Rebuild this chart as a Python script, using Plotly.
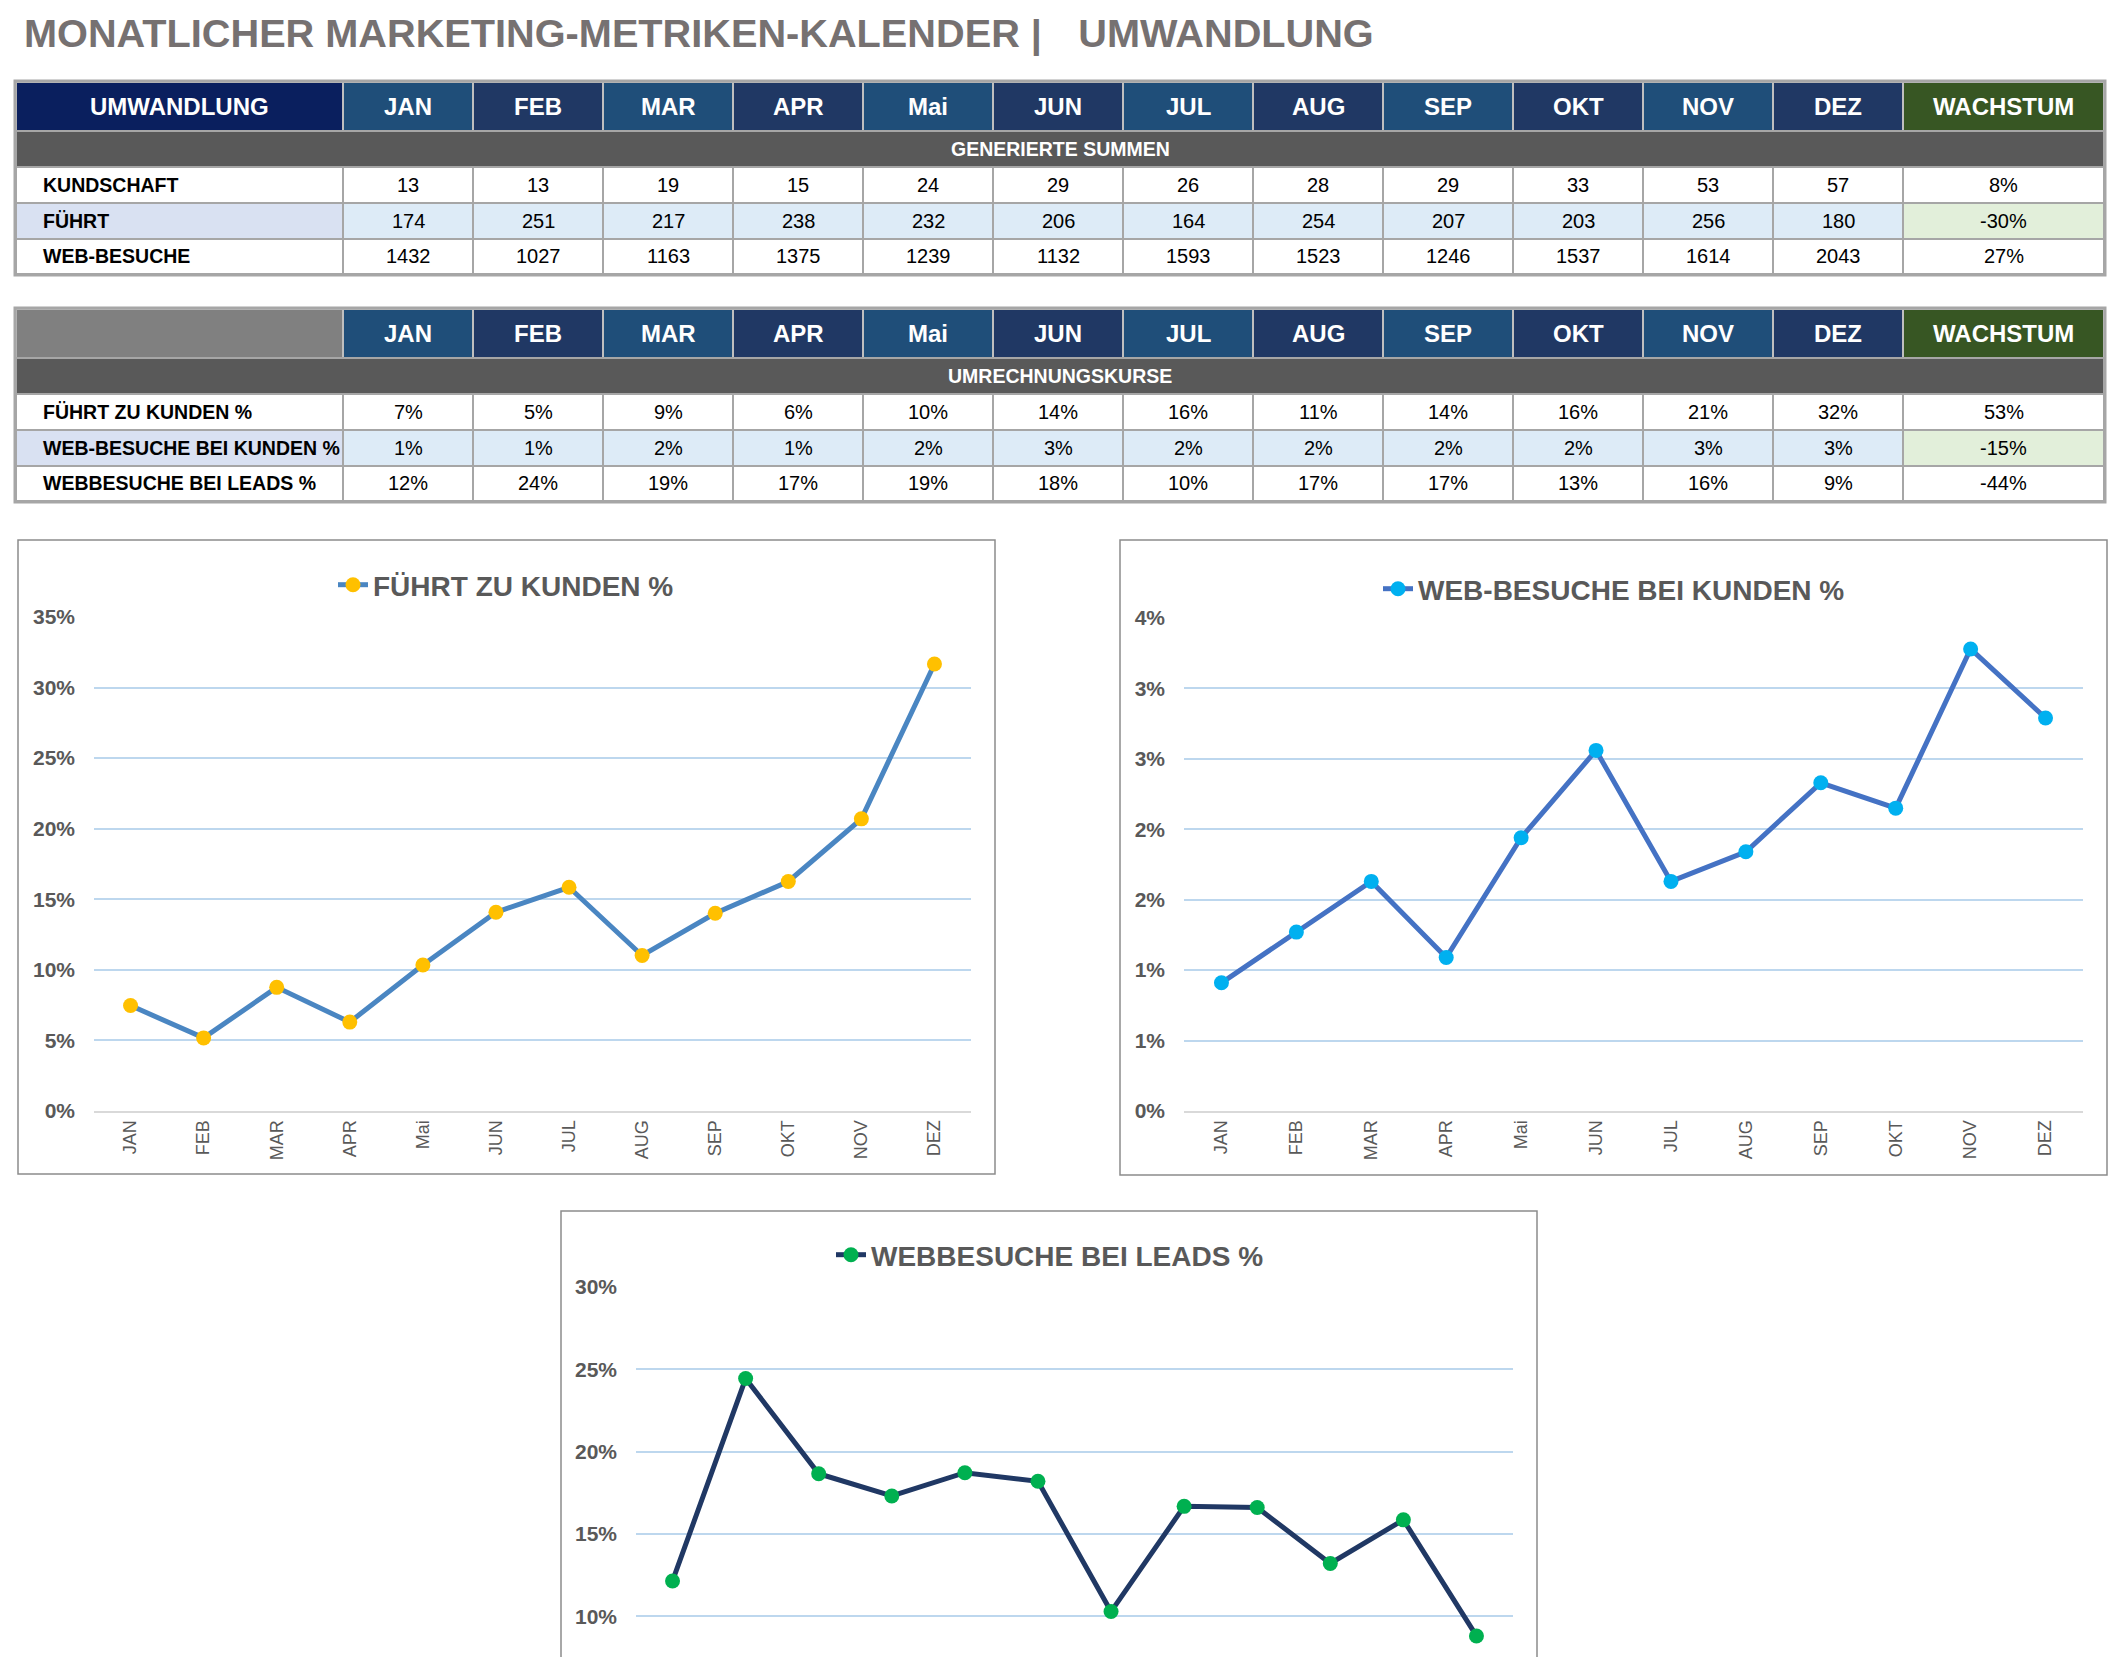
import plotly.graph_objects as go

W, H = 2122, 1657
FONT = "Liberation Sans, Arial, Helvetica, sans-serif"

# ---------------- data ----------------
months = ["JAN", "FEB", "MAR", "APR", "Mai", "JUN", "JUL", "AUG", "SEP", "OKT", "NOV", "DEZ"]

sum_labels = ["KUNDSCHAFT", "FÜHRT", "WEB-BESUCHE"]
kundschaft = [13, 13, 19, 15, 24, 29, 26, 28, 29, 33, 53, 57]
fuehrt = [174, 251, 217, 238, 232, 206, 164, 254, 207, 203, 256, 180]
web_besuche = [1432, 1027, 1163, 1375, 1239, 1132, 1593, 1523, 1246, 1537, 1614, 2043]
sum_growth = ["8%", "-30%", "27%"]

rate_labels = ["FÜHRT ZU KUNDEN %", "WEB-BESUCHE BEI KUNDEN %", "WEBBESUCHE BEI LEADS %"]
fz_kunden = [0.0747, 0.0518, 0.0876, 0.0630, 0.1034, 0.1408, 0.1585, 0.1102, 0.1401, 0.1626, 0.2070, 0.3167]
web_kunden = [0.0091, 0.0127, 0.0163, 0.0109, 0.0194, 0.0256, 0.0163, 0.0184, 0.0233, 0.0215, 0.0328, 0.0279]
web_leads = [0.1215, 0.2444, 0.1866, 0.1731, 0.1872, 0.1820, 0.1029, 0.1668, 0.1661, 0.1321, 0.1586, 0.0881]
rate_growth = ["53%", "-15%", "-44%"]

title_text = "MONATLICHER MARKETING-METRIKEN-KALENDER |\u00a0\u00a0\u00a0\u200aUMWANDLUNG"
growth_label = "WACHSTUM"
table1_corner = "UMWANDLUNG"
table1_section = "GENERIERTE SUMMEN"
table2_section = "UMRECHNUNGSKURSE"

# ---------------- helpers ----------------
def X(px):
    return px / W

def Y(py):
    return 1 - py / H

shapes = []
annotations = []

def rect(x0, y0, x1, y1, fill, line="#A6A6A6", lw=2, layer="below"):
    shapes.append(dict(type="rect", xref="paper", yref="paper",
                       x0=X(x0), x1=X(x1), y0=Y(y1), y1=Y(y0),
                       fillcolor=fill, line=dict(color=line, width=lw), layer=layer))

def text(x, y, s, size, color, bold=False, xanchor="center"):
    annotations.append(dict(xref="paper", yref="paper", x=X(x), y=Y(y), text=s,
                            showarrow=False, xanchor=xanchor, yanchor="middle",
                            font=dict(family=FONT, size=size, color=color,
                                      weight="bold" if bold else "normal")))

# ---------------- title ----------------
text(22, 34, title_text, 39.7, "#767171", bold=True, xanchor="left")

# ---------------- tables ----------------
col_edges = [16, 343] + [343 + 130 * (i + 1) for i in range(12)] + [2104]
HEAD_ODD = "#1F4E79"
HEAD_EVEN = "#203864"
GREEN = "#375623"
SUB_GRAY = "#595959"

def draw_table(top, corner_text, corner_fill, section, labels, cells, growth):
    offs = [0, 49, 85, 121, 157, 192]
    r = [top + o for o in offs]
    # header row
    rect(col_edges[0], r[0], col_edges[1], r[1], corner_fill, line="#BFBFBF")
    if corner_text:
        text((col_edges[0] + col_edges[1]) / 2, (r[0] + r[1]) / 2, corner_text, 24, "white", True)
    for i, m in enumerate(months):
        x0, x1 = col_edges[i + 1], col_edges[i + 2]
        rect(x0, r[0], x1, r[1], HEAD_ODD if i % 2 == 0 else HEAD_EVEN, line="#BFBFBF")
        text((x0 + x1) / 2, (r[0] + r[1]) / 2, m, 24, "white", True)
    rect(col_edges[13], r[0], col_edges[14], r[1], GREEN, line="#BFBFBF")
    text((col_edges[13] + col_edges[14]) / 2, (r[0] + r[1]) / 2, growth_label, 24, "white", True)
    # section row
    rect(col_edges[0], r[1], col_edges[14], r[2], SUB_GRAY, line="#A6A6A6")
    text((col_edges[0] + col_edges[14]) / 2, (r[1] + r[2]) / 2, section, 19.5, "white", True)
    # data rows
    for j in range(3):
        y0, y1 = r[2 + j], r[3 + j]
        shaded = (j == 1)
        rect(col_edges[0], y0, col_edges[1], y1, "#D9E1F2" if shaded else "white")
        text(41, (y0 + y1) / 2, labels[j], 19.5, "black", True, xanchor="left")
        for i in range(12):
            x0, x1 = col_edges[i + 1], col_edges[i + 2]
            rect(x0, y0, x1, y1, "#DDEBF7" if shaded else "white")
            text((x0 + x1) / 2, (y0 + y1) / 2, cells[j][i], 20, "black")
        rect(col_edges[13], y0, col_edges[14], y1, "#E2EFDA" if shaded else "white")
        text((col_edges[13] + col_edges[14]) / 2, (y0 + y1) / 2, growth[j], 20, "black")
    # outer border
    rect(col_edges[0] - 1, r[0] - 1, col_edges[14] + 1, r[5] + 1, "rgba(0,0,0,0)", line="#A6A6A6", lw=3)

sum_cells = [[str(v) for v in kundschaft], [str(v) for v in fuehrt], [str(v) for v in web_besuche]]
rate_cells = [[f"{v:.0%}" for v in series] for series in (fz_kunden, web_kunden, web_leads)]

draw_table(82, table1_corner, "#0A1F5E", table1_section, sum_labels, sum_cells, sum_growth)
draw_table(309, "", "#808080", table2_section, rate_labels, rate_cells, rate_growth)

# ---------------- charts ----------------
fig = go.Figure()

charts = [
    dict(name=rate_labels[0], y=fz_kunden, line="#4A86C2", marker="#FFC000", ax="", leg="legend"),
    dict(name=rate_labels[1], y=web_kunden, line="#4472C4", marker="#00B0F0", ax="2", leg="legend2"),
    dict(name=rate_labels[2], y=web_leads, line="#203864", marker="#00B050", ax="3", leg="legend3"),
]
for c in charts:
    fig.add_trace(go.Scatter(
        x=months, y=c["y"], mode="lines+markers", name=c["name"],
        line=dict(color=c["line"], width=5),
        marker=dict(color=c["marker"], size=15),
        xaxis="x" + c["ax"], yaxis="y" + c["ax"], legend=c["leg"], showlegend=True,
        hovertemplate="%{x}: %{y:.1%}<extra></extra>"))

# chart frames
rect(18, 540, 995, 1174, "rgba(0,0,0,0)", line="#8C8C8C", lw=1.5)
rect(1120, 540, 2107, 1175, "rgba(0,0,0,0)", line="#8C8C8C", lw=1.5)
rect(561, 1211, 1537, 1760, "rgba(0,0,0,0)", line="#8C8C8C", lw=1.5)

plot_h = 1111 - 617
low3 = 0.30 - 0.30 * (H - 1287) / plot_h

def xax(x0, x1, anchor, labels=True):
    return dict(domain=[X(x0), X(x1)], anchor=anchor, type="category",
                range=[-0.5, 11.5], showgrid=False, showline=labels,
                linecolor="#D9D9D9", linewidth=2, tickangle=-90,
                ticks="", showticklabels=labels, ticklabelstandoff=0,
                tickfont=dict(family=FONT, size=18, color="#595959"),
                zeroline=False, fixedrange=True, automargin=False)

def yax(d0, d1, anchor, rng, dtick):
    return dict(domain=[d0, d1], anchor=anchor, range=rng, dtick=dtick, tick0=0,
                tickformat=".0%", showgrid=True, gridcolor="#BDD7EE", gridwidth=2,
                zeroline=False, showline=False, ticks="", ticklabelstandoff=18,
                tickfont=dict(family=FONT, size=21, color="#595959", weight="bold"),
                fixedrange=True, automargin=False)

legend_common = dict(xanchor="center", yanchor="middle", orientation="h",
                     bgcolor="rgba(0,0,0,0)", borderwidth=0,
                     font=dict(family=FONT, size=28, color="#595959", weight="bold"))

fig.update_layout(
    width=W, height=H,
    margin=dict(l=0, r=0, t=0, b=0, pad=0, autoexpand=False),
    paper_bgcolor="white", plot_bgcolor="rgba(0,0,0,0)",
    font=dict(family=FONT),
    xaxis=xax(94, 971, "y"),
    yaxis=yax(Y(1111), Y(617), "x", [0, 0.35], 0.05),
    xaxis2=xax(1184, 2083, "y2"),
    yaxis2=yax(Y(1111), Y(618), "x2", [0, 0.035], 0.005),
    xaxis3=xax(636, 1513, "y3", labels=False),
    yaxis3=yax(0, Y(1287), "x3", [low3, 0.30], 0.05),
    legend=dict(x=X(506), y=Y(585), **legend_common),
    legend2=dict(x=X(1614), y=Y(589), **legend_common),
    legend3=dict(x=X(1050), y=Y(1255), **legend_common),
    shapes=shapes,
    annotations=annotations,
)

fig.write_html("out.html")
